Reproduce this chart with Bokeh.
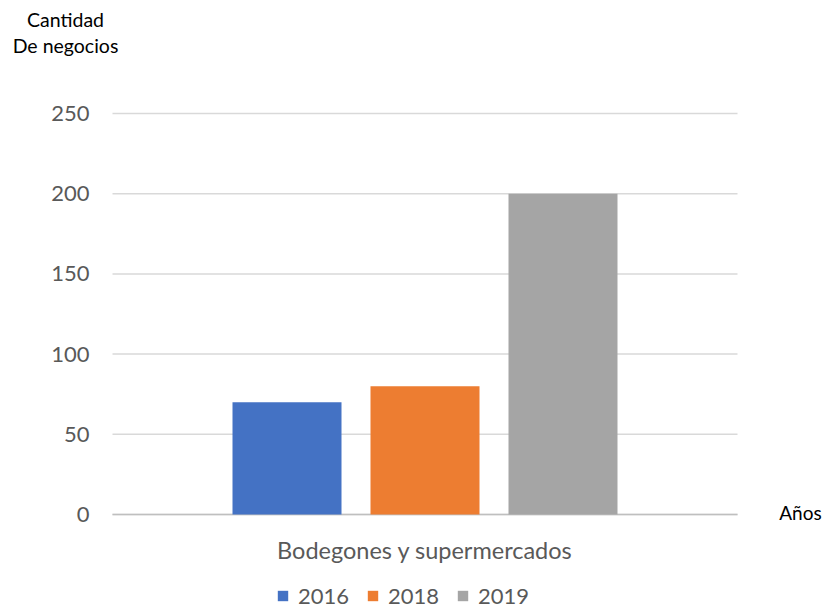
from bokeh.plotting import figure
from bokeh.models import ColumnDataSource, Legend, LegendItem, Range1d
from bokeh.core.properties import value
from bokeh.embed import file_html
from bokeh.resources import INLINE

categories = ["Bodegones y supermercados"]
years = ["2016", "2018", "2019"]
values_2016 = [70]
values_2018 = [80]
values_2019 = [200]
y_ticks = [0, 50, 100, 150, 200, 250]

colors = {"2016": "#4472C4", "2018": "#ED7D31", "2019": "#A5A5A5"}
FONT = "Lato"
TEXT_GRAY = "#595959"

# Plot area: one category occupies [0, 1] on x; canvas margins are expressed in the same units.
W, H = 826, 610
LEFT, RIGHT, TOP, BOTTOM = 112, 89, 113, 96
px_x = (W - LEFT - RIGHT) / 1.0
px_y = (H - TOP - BOTTOM) / 250.0
x0 = -LEFT / px_x
x1 = 1 + RIGHT / px_x
y0 = -BOTTOM / px_y
y1 = 250 + TOP / px_y

p = figure(width=W, height=H, x_range=Range1d(x0, x1), y_range=Range1d(y0, y1),
           output_backend="svg", toolbar_location=None, min_border=0)
p.axis.visible = False
p.grid.grid_line_color = None
p.outline_line_color = None

# horizontal gridlines across the category band
p.segment(x0=[0] * len(y_ticks), x1=[1] * len(y_ticks), y0=y_ticks, y1=y_ticks,
          line_color="#D9D9D9", line_width=1.5)
# baseline
p.segment(x0=[0], x1=[1], y0=[0], y1=[0], line_color="#BFBFBF", line_width=1.5)

# y tick labels
p.text(x=[-23 / px_x] * len(y_ticks), y=y_ticks, text=[str(t) for t in y_ticks],
       text_font=value(FONT), text_font_size="22px", text_color=TEXT_GRAY,
       text_align="right", text_baseline="middle")

# clustered bars
bar_w = 0.1744
step = 0.2208
series = {"2016": values_2016, "2018": values_2018, "2019": values_2019}
items = []
for i, yr in enumerate(years):
    xs = [ci + 0.5 + (i - 1) * step for ci in range(len(categories))]
    src = ColumnDataSource(dict(x=xs, top=series[yr]))
    r = p.vbar(x="x", top="top", width=bar_w, bottom=0, source=src,
               fill_color=colors[yr], line_color=None)
    items.append(LegendItem(label=yr, renderers=[r]))

# category label
p.text(x=[ci + 0.5 for ci in range(len(categories))], y=[-35 / px_y] * len(categories),
       text=categories, text_font=value(FONT), text_font_size="23.5px", text_color=TEXT_GRAY,
       text_align="center", text_baseline="middle")

# axis titles
p.text(x=[-47 / px_x] * 2, y=[250 + 94 / px_y, 250 + 68 / px_y], text=["Cantidad", "De negocios"],
       text_font=value(FONT), text_font_size="19.5px", text_color="black",
       text_align="center", text_baseline="middle")
p.text(x=[1 + 63 / px_x], y=[2 / px_y], text=["Años"],
       text_font=value(FONT), text_font_size="19px", text_color="black",
       text_align="center", text_baseline="middle")

legend = Legend(items=items, orientation="horizontal", location=(276, 1),
                label_text_font=FONT, label_text_font_size="22px", label_text_color=TEXT_GRAY,
                glyph_width=13, glyph_height=13, spacing=17, label_standoff=9,
                border_line_color=None, background_fill_alpha=0, padding=0, margin=0)
p.add_layout(legend, "center")

open("out.html", "w").write(file_html(p, INLINE))
